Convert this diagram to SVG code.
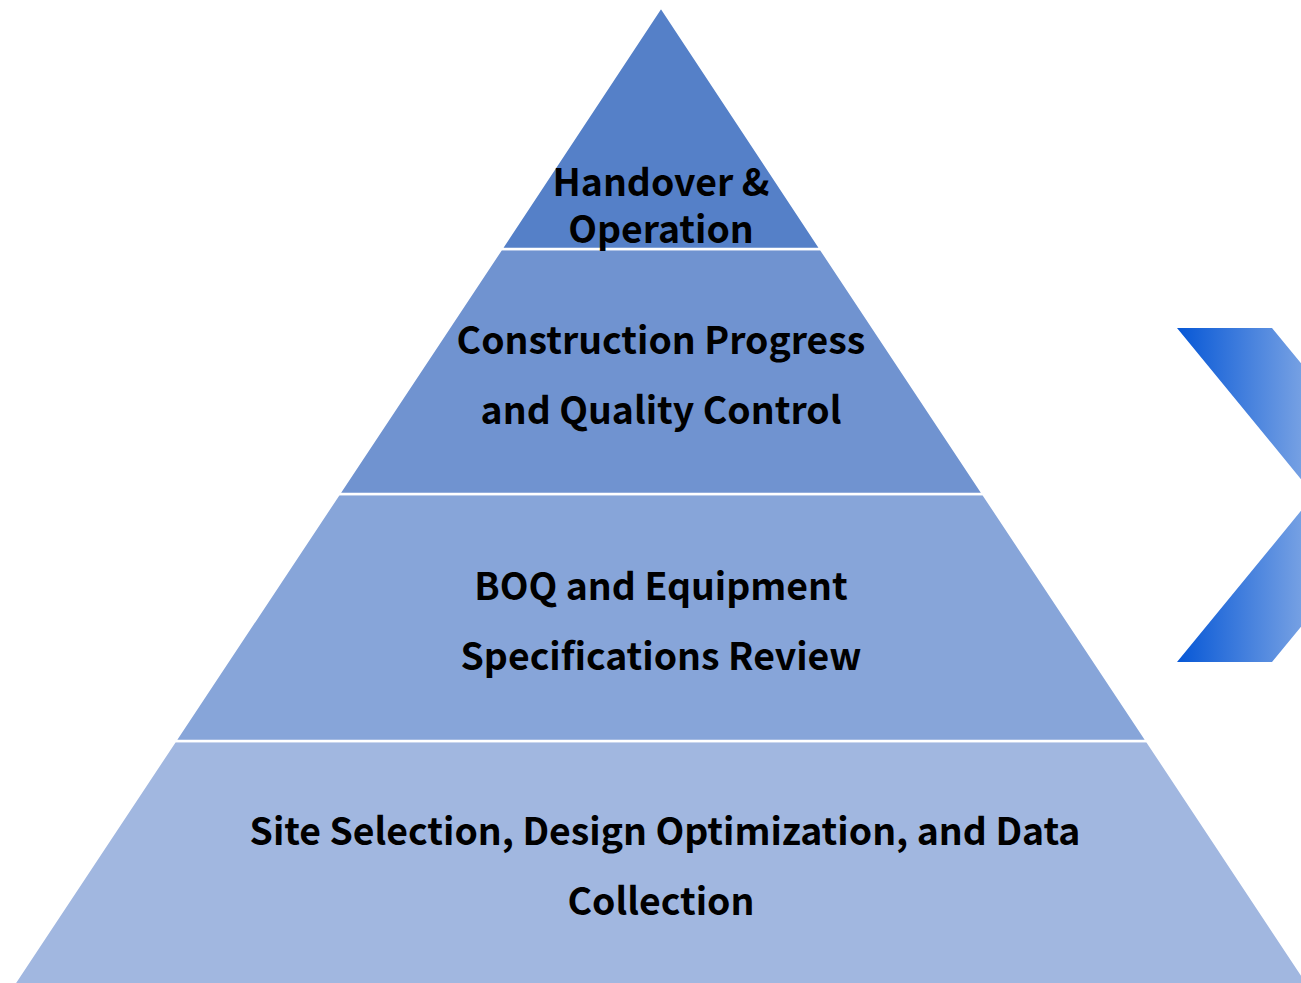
<svg xmlns="http://www.w3.org/2000/svg" width="1301" height="983" viewBox="0 0 1301 983">
<defs>
<style>
.lbl{font-family:"Noto Sans CJK SC","Source Sans Pro","Open Sans",sans-serif;font-weight:700;font-size:37.4px;fill:#000;text-anchor:middle}
.lay{stroke:#fff;stroke-width:2.5}
</style>
<linearGradient id="chev" x1="1177" y1="0" x2="1330" y2="0" gradientUnits="userSpaceOnUse">
<stop offset="0" stop-color="#0657D6"/>
<stop offset="1" stop-color="#8FB1E6"/>
</linearGradient>
</defs>
<rect width="1301" height="983" fill="#fff"/>
<g id="layer4">
<polygon class="lay" points="175,741 1147,741 1312,990 10,990" fill="#A1B7E0"/>
<text class="lbl" x="665" y="845">Site Selection, Design Optimization, and Data</text>
<text class="lbl" x="661" y="915">Collection</text>
</g>
<g id="layer3">
<polygon class="lay" points="338.8,494 983.2,494 1147,741 175,741" fill="#87A5D9"/>
<text class="lbl" x="661" y="600">BOQ and Equipment</text>
<text class="lbl" x="661" y="670">Specifications Review</text>
</g>
<g id="layer2">
<polygon class="lay" points="501.2,249 820.8,249 983.2,494 338.8,494" fill="#7093D0"/>
<text class="lbl" x="661" y="354">Construction Progress</text>
<text class="lbl" x="661" y="424">and Quality Control</text>
</g>
<g id="layer1">
<polygon class="lay" points="661,7 820.8,249 501.2,249" fill="#5580C8"/>
<text class="lbl" x="661" y="196">Handover &amp;</text>
<text class="lbl" x="661" y="243">Operation</text>
</g>
<g id="chevron">
<polygon points="1177,328 1272,328 1409,495 1272,662 1177,662 1314,495" fill="url(#chev)"/>
</g>
</svg>
